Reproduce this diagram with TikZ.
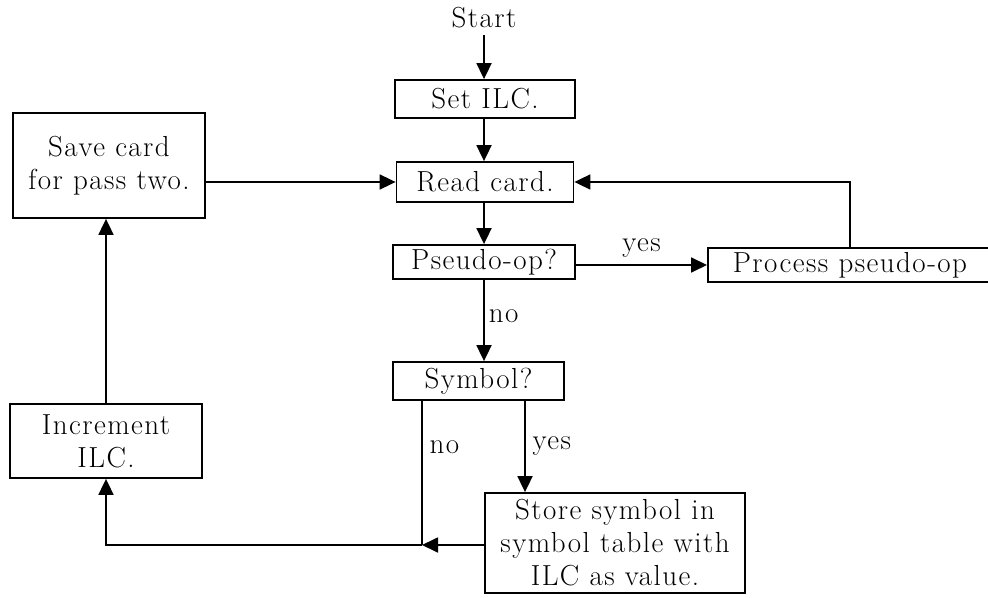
\documentclass[tikz,border=0pt]{standalone}
\usepackage{fontspec}
\usepackage{tikz}
\usetikzlibrary{arrows.meta}

\newfontfamily\flowfam{Latin Modern Roman}[LetterSpace=5]
\newcommand{\flowfont}{\flowfam\fontsize{14.5}{16.5}\selectfont}
\tikzset{
  box/.style={draw, line width=0.9pt, align=center, inner sep=2pt, font=\flowfont},
  lbl/.style={font=\flowfont},
  flow/.style={line width=0.9pt, -{Triangle[length=8pt,width=7.5pt]}},
  plain/.style={line width=0.9pt},
}

\begin{document}
\begin{tikzpicture}[x=0.5pt,y=-0.5pt]
      \useasboundingbox (0,0) rectangle (988,598);
       % boxes
       \node[lbl] (start) at (484,18) {Start};
       \node[box, minimum width=90pt, minimum height=19pt] (setilc) at (485,99) {Set ILC.};
       \node[box, minimum width=88.5pt, minimum height=20pt] (read) at (485,182) {Read card.};
       \node[box, minimum width=96pt, minimum height=52.5pt] (save) at (109,165.5) {Save card\\for pass two.};
       \node[box, minimum width=91pt, minimum height=16pt] (pseudo) at (484,262) {Pseudo-op?};
       \node[box, anchor=west, minimum width=142pt, minimum height=16pt] (process) at (707,265) {Process pseudo-op};
       \node[box, minimum width=85.5pt, minimum height=19pt] (symbol) at (478.5,381) {Symbol?};
       \node[box, minimum width=130pt, minimum height=50pt] (store) at (615,543) {Store symbol in\\symbol table with\\ILC as value.};
       \node[box, minimum width=96pt, minimum height=37pt] (incr) at (106,441) {Increment\\ILC.};

       % helper points
       \coordinate (join) at (422,545);
       \coordinate (yesx) at (525,0);

       % connectors
       \draw[flow] (start.south) -- (start.south |- setilc.north);
       \draw[flow] (setilc.south -| start) -- (read.north -| start);
       \draw[flow] (read.south -| start) -- (pseudo.north -| start);
       \draw[flow] (pseudo.south) -- (pseudo.south |- symbol.north)
            node[lbl, pos=0.45, right, inner sep=2pt] {no};
       \draw[flow] (pseudo.east |- process.west) -- (process.west)
            node[lbl, midway, above] {yes};
       \draw[flow] (process.north) |- (read.east);
       \draw[flow] (symbol.south -| yesx) -- (store.north -| yesx)
            node[lbl, midway, right] {yes};
       \draw[plain] (symbol.south -| join) -- (join)
            node[lbl, pos=0.32, right] {no};
       \draw[flow] (store.west |- join) -- (join);
       \draw[flow] (join) -| (incr.south);
       \draw[flow] (incr.north) -- (incr.north |- save.south);
       \draw[flow] (save.east |- read.west) -- (read.west);
\end{tikzpicture}
\end{document}
